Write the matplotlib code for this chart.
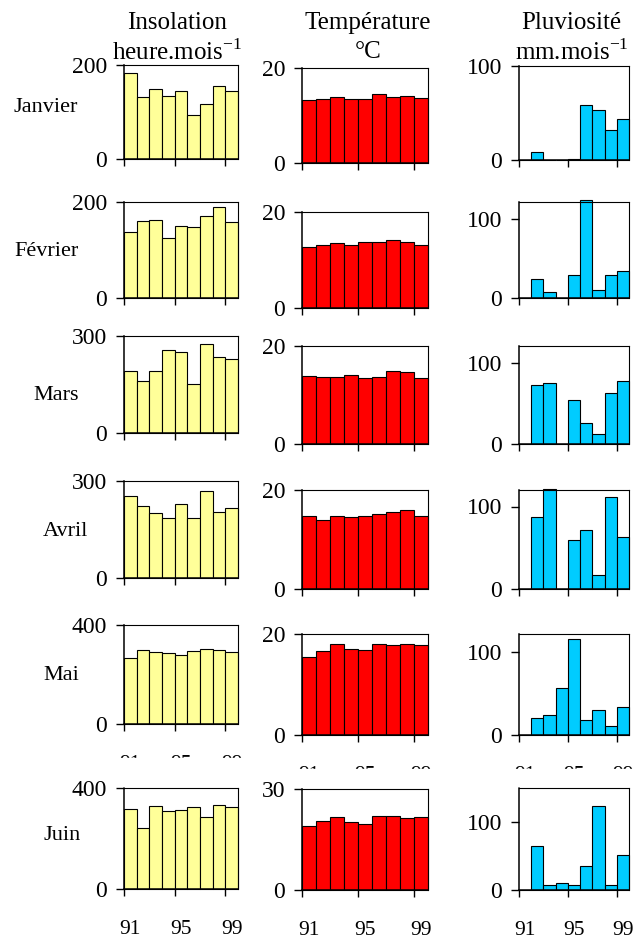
import matplotlib.pyplot as plt
from matplotlib.patches import Rectangle

# police type Times
plt.rcParams['font.family'] = ['Liberation Serif', 'DejaVu Serif']
plt.rcParams['mathtext.fontset'] = 'custom'
plt.rcParams['mathtext.rm'] = 'Liberation Serif'

# données (années 91 à 99)
years = [91, 92, 93, 94, 95, 96, 97, 98, 99]
months = ['Janvier', 'Février', 'Mars', 'Avril', 'Mai', 'Juin']
year_labels = ['91', '95', '99']

# insolation, heure.mois-1
insolation = [
    [184, 131, 150, 135, 144, 94, 116, 155, 144],
    [137, 160, 162, 125, 150, 148, 170, 190, 158],
    [191, 160, 191, 256, 250, 151, 274, 234, 228],
    [253, 222, 202, 185, 230, 185, 270, 205, 218],
    [268, 297, 289, 285, 278, 293, 303, 297, 289],
    [318, 241, 327, 308, 312, 323, 285, 332, 323],
]
# température, °C
temperature = [
    [13.2, 13.5, 13.9, 13.5, 13.5, 14.6, 13.9, 14.2, 13.7],
    [12.8, 13.1, 13.6, 13.1, 13.8, 13.8, 14.1, 13.8, 13.1],
    [13.8, 13.6, 13.6, 14.1, 13.4, 13.6, 14.8, 14.6, 13.4],
    [14.7, 13.9, 14.7, 14.5, 14.7, 15.2, 15.6, 16.0, 14.7],
    [15.4, 16.6, 18.1, 17.1, 16.9, 18.1, 17.8, 18.1, 17.8],
    [19.1, 20.5, 21.6, 20.2, 19.5, 21.9, 21.9, 21.3, 21.6],
]
# pluviosité, mm.mois-1
pluviosite = [
    [0, 9, 0, 0, 1.5, 59, 53, 32, 44],
    [0, 24, 7, 0, 29, 124, 10, 29, 34],
    [0, 72, 75, 0, 54, 26, 12, 63, 78],
    [0, 87, 121, 0, 60, 72, 17, 111, 63],
    [0, 20, 24, 56, 115, 18, 30, 11, 33],
    [0, 65, 8, 10, 8, 35, 123, 8, 51],
]

# échelles des axes y (haut du cadre, graduation haute)
insol_top = [200, 200, 300, 300, 400, 400]
temp_top = [20, 20, 20, 20, 20, 30]
pluvio_top = [100, 121.5, 120.5, 120, 121, 150]
pluvio_tick = [100, 100, 100, 100, 100, 100]

# position des cadres en pixels
W, H = 640, 943
cols_x = [(124, 238), (302, 428), (519, 629)]
rows_y = [
    [(65, 159), (202, 298), (336, 433), (481, 578), (625, 724), (788, 889)],
    [(68, 163), (212, 308), (346, 444), (490, 589), (634, 735), (789, 890)],
    [(66, 160), (202, 298), (346, 444), (490, 589), (634, 735), (788, 890)],
]
label_x = [14, 14, 33, 43, 43, 43]
label_y = [108, 252, 396, 532, 675, 836]
colors = ['#ffff99', '#ff0000', '#00ccff']


def box(l, r, t, b):
    return [l / W, 1 - b / H, (r - l) / W, (b - t) / H]


fig = plt.figure(figsize=(W / 100, H / 100), dpi=100)

# titres des colonnes
fig.text(177 / W, 1 - 23 / H, 'Insolation', ha='center', va='center', fontsize=18)
fig.text(177 / W, 1 - 52 / H, r'heure.mois$^{\mathrm{-1}}$', ha='center', va='center', fontsize=18)
fig.text(368 / W, 1 - 23 / H, 'Température', ha='center', va='center', fontsize=18)
fig.text(368 / W, 1 - 52 / H, '°C', ha='center', va='center', fontsize=18)
fig.text(571 / W, 1 - 23 / H, 'Pluviosité', ha='center', va='center', fontsize=18)
fig.text(572 / W, 1 - 52 / H, r'mm.mois$^{\mathrm{-1}}$', ha='center', va='center', fontsize=18)

data = [insolation, temperature, pluviosite]
for i, month in enumerate(months):
    fig.text(label_x[i] / W, 1 - label_y[i] / H, month, ha='left', va='center', fontsize=16)
    for j in range(3):
        t, b = rows_y[j][i]
        ax = fig.add_axes(box(cols_x[j][0], cols_x[j][1], t, b))
        ax.bar(years, data[j][i], width=1, align='edge', color=colors[j],
               edgecolor='black', linewidth=0.8, clip_on=False)
        ax.set_xlim(91, 100)
        # graduations au bord des barres, étiquettes au centre
        ax.set_xticks([91, 95, 99])
        ax.set_xticks([91.5, 95.5, 99.5], year_labels, minor=True)
        if j == 0:
            ax.set_ylim(0, insol_top[i])
            ax.set_yticks([0, insol_top[i]])
        elif j == 1:
            ax.set_ylim(0, temp_top[i])
            ax.set_yticks([0, temp_top[i]])
        else:
            ax.set_ylim(0, pluvio_top[i])
            ax.set_yticks([0, pluvio_tick[i]])
        ax.tick_params(axis='y', direction='out', length=6, width=1, pad=6, labelsize=17)
        ax.tick_params(axis='x', which='major', direction='out', length=5, width=1,
                       labelbottom=False)
        ax.tick_params(axis='x', which='minor', length=0, pad=22, labelsize=15.5,
                       labelbottom=(i >= 4))
        for side in ['left', 'bottom']:
            ax.spines[side].set_linewidth(1.1)
        for side in ['top', 'right']:
            ax.spines[side].set_linewidth(0.8)

# les étiquettes de Mai sont coupées dans l'original
for l, r, t in [(110, 250, 758), (290, 440, 769), (505, 640, 769)]:
    fig.add_artist(Rectangle((l / W, 1 - 786 / H), (r - l) / W, (786 - t) / H,
                             transform=fig.transFigure, color='white', zorder=10))

fig.savefig('out.png', dpi=100)
